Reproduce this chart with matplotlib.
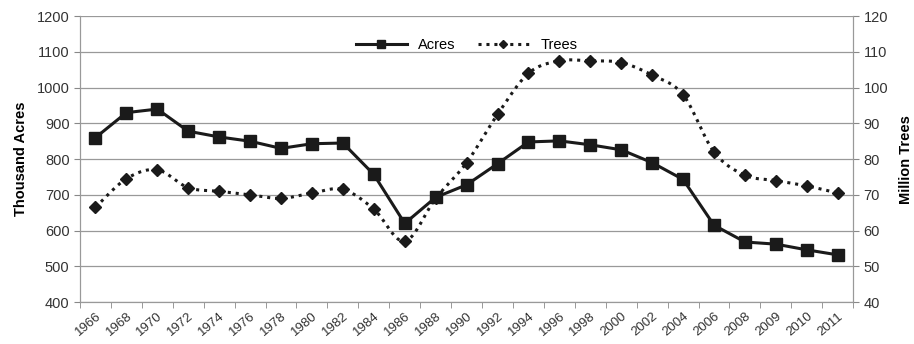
import numpy as np
import matplotlib
matplotlib.use("Agg")
import matplotlib.pyplot as plt
from matplotlib.ticker import FixedLocator
from matplotlib.lines import Line2D

years = ["1966", "1968", "1970", "1972", "1974", "1976", "1978", "1980", "1982",
         "1984", "1986", "1988", "1990", "1992", "1994", "1996", "1998", "2000",
         "2002", "2004", "2006", "2008", "2009", "2010", "2011"]
acres = [860, 930, 940, 878, 862, 850, 830, 843, 845, 757, 620, 693, 728, 787,
         848, 851, 840, 826, 790, 743, 615, 568, 562, 546, 532]
trees = [66.5, 74.5, 77, 72, 71, 70, 69, 70.5, 71.5, 66, 57, 69, 79, 92.5, 104,
         107.5, 107.5, 107, 103.5, 98, 82, 75.5, 74, 72.5, 70.5]


def smooth(x, y, n=20):
    x = np.asarray(x, float)
    y = np.asarray(y, float)
    px = np.concatenate([[x[0]], x, [x[-1]]])
    py = np.concatenate([[y[0]], y, [y[-1]]])
    xs, ys = [], []
    t = np.linspace(0, 1, n, endpoint=False)
    for i in range(1, len(px) - 2):
        p0, p1, p2, p3 = px[i-1], px[i], px[i+1], px[i+2]
        q0, q1, q2, q3 = py[i-1], py[i], py[i+1], py[i+2]
        for arr, a0, a1, a2, a3 in ((xs, p0, p1, p2, p3), (ys, q0, q1, q2, q3)):
            arr.extend(0.5 * ((2 * a1) + (-a0 + a2) * t
                              + (2 * a0 - 5 * a1 + 4 * a2 - a3) * t ** 2
                              + (-a0 + 3 * a1 - 3 * a2 + a3) * t ** 3))
    xs.append(x[-1])
    ys.append(y[-1])
    return np.array(xs), np.array(ys)


plt.rcParams['font.family'] = ['Liberation Sans', 'DejaVu Sans']
fig = plt.figure(figsize=(9.14, 3.44), dpi=100)
ax = fig.add_axes([0.0875, 0.122, 0.846, 0.831])
ax2 = ax.twinx()

x = np.arange(len(years))
ax.plot(x, acres, color='#1a1a1a', lw=2.2, marker='s', markersize=9,
        label='Acres', zorder=3)
sx, sy = smooth(x, trees)
ax2.plot(sx, sy, color='#1a1a1a', lw=2.2, linestyle=(0, (1, 1.6)), zorder=3)
ax2.plot(x, trees, color='#1a1a1a', lw=0, marker='D', markersize=6, zorder=4)

ax.set_xlim(-0.5, len(years) - 0.5)
ax.set_ylim(400, 1200)
ax2.set_ylim(40, 120)
ax.set_yticks(np.arange(400, 1201, 100))
ax2.set_yticks(np.arange(40, 121, 10))
ax.set_xticks(x)
ax.set_xticklabels(years, rotation=40, ha='right', rotation_mode='anchor',
                   fontsize=9.5, color='#333333')
ax.xaxis.set_minor_locator(FixedLocator(np.arange(-0.5, len(years), 1)))
ax.tick_params(axis='x', which='major', length=0, pad=6)
ax.tick_params(axis='x', which='minor', length=4, color='#888888')
ax.tick_params(axis='y', labelsize=10.5, color='#888888', labelcolor='#333333', length=4)
ax2.tick_params(axis='y', labelsize=10.5, color='#888888', labelcolor='#333333', length=4)
ax.grid(axis='y', color='#999999', lw=0.9)
ax.set_axisbelow(True)
for a in (ax, ax2):
    a.spines['top'].set_visible(False)
    a.spines['left'].set_color('#999999')
    a.spines['right'].set_color('#999999')
    a.spines['bottom'].set_color('#999999')

ax.set_ylabel('Thousand Acres', fontsize=10.5, fontweight='bold', labelpad=6)
ax2.set_ylabel('Million Trees', fontsize=10.5, fontweight='bold', labelpad=8)

h1 = Line2D([], [], color='#1a1a1a', lw=2.2, marker='s', markersize=6)
h2 = Line2D([], [], color='#1a1a1a', lw=2.2, linestyle=(0, (1, 1.6)), marker='D',
            markersize=4)
ax.legend([h1, h2], ['Acres', 'Trees'], loc='upper center', bbox_to_anchor=(0.5, 0.97),
          ncol=2, frameon=False, fontsize=10.5, handlelength=3.5, columnspacing=1.5)

fig.savefig('out.png', dpi=100)
